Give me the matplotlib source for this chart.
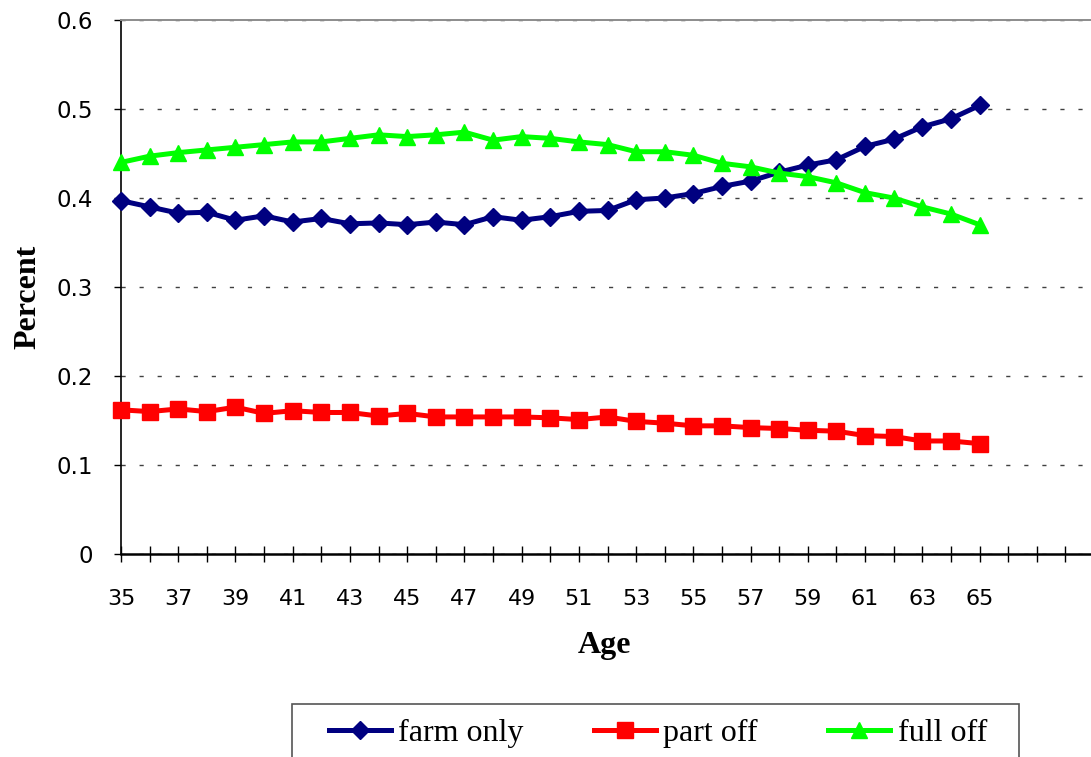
import matplotlib
matplotlib.use("Agg")
import matplotlib.pyplot as plt
from matplotlib.patches import Rectangle

# Share of households by work status across operator age
ages = list(range(35, 66))
farm_only = [0.397, 0.390, 0.383, 0.384, 0.375, 0.380, 0.373, 0.377, 0.371, 0.372,
             0.370, 0.373, 0.370, 0.379, 0.375, 0.379, 0.385, 0.386, 0.398, 0.400,
             0.405, 0.413, 0.419, 0.429, 0.437, 0.443, 0.458, 0.466, 0.480, 0.489,
             0.504]
part_off = [0.162, 0.160, 0.163, 0.160, 0.165, 0.158, 0.161, 0.159, 0.159, 0.155,
            0.158, 0.154, 0.154, 0.154, 0.154, 0.153, 0.151, 0.154, 0.149, 0.147,
            0.144, 0.144, 0.142, 0.141, 0.139, 0.138, 0.133, 0.132, 0.127, 0.127,
            0.124]
full_off = [0.440, 0.447, 0.451, 0.454, 0.457, 0.460, 0.463, 0.463, 0.467, 0.471,
            0.469, 0.471, 0.474, 0.465, 0.469, 0.467, 0.463, 0.460, 0.452, 0.452,
            0.448, 0.439, 0.435, 0.428, 0.424, 0.417, 0.406, 0.400, 0.390, 0.382,
            0.370]
y_ticks = [0, 0.1, 0.2, 0.3, 0.4, 0.5, 0.6]
y_tick_labels = ["0", "0.1", "0.2", "0.3", "0.4", "0.5", "0.6"]

W, H = 1091, 757
fig = plt.figure(figsize=(W / 100, H / 100), dpi=100)

# plot area in pixel terms: left 121, top 20, bottom 554, runs past right edge
x0, x1, ytop, ybot = 121, 1094, 20, 554
ax = fig.add_axes([x0 / W, 1 - ybot / H, (x1 - x0) / W, (ybot - ytop) / H])

ax.plot(ages, farm_only, color="#000080", lw=3.6, marker="D", ms=9.5,
        label="farm only", zorder=3, clip_on=False)
ax.plot(ages, part_off, color="#FF0000", lw=3.6, marker="s", ms=11.5,
        label="part off", zorder=3, clip_on=False)
ax.plot(ages, full_off, color="#00FF00", lw=3.6, marker="^", ms=11.5,
        label="full off", zorder=3, clip_on=False)

ax.set_xlim(35, 69)
ax.set_ylim(0, 0.6)

ax.set_xticks(list(range(35, 70)))
ax.set_xticklabels([str(a) if (a % 2 == 1 and a <= 65) else "" for a in range(35, 70)],
                   fontsize=16, family="DejaVu Sans")
ax.set_yticks(y_ticks)
ax.set_yticklabels(y_tick_labels, fontsize=16.5, family="DejaVu Sans")

ax.tick_params(axis="x", direction="inout", length=12, width=1.0, color="#000000", pad=19)
ax.tick_params(axis="y", direction="out", length=5, width=1.0, color="#000000", pad=15)

ax.set_axisbelow(True)
ax.yaxis.grid(True, linestyle=(0, (3, 10)), color="#404040", lw=1.0)
ax.xaxis.grid(False)

ax.spines["right"].set_visible(False)
ax.spines["top"].set_color("#8c8c8c")
ax.spines["top"].set_linewidth(1.4)
ax.spines["left"].set_color("#000000")
ax.spines["left"].set_linewidth(1.2)
ax.spines["bottom"].set_color("#000000")
ax.spines["bottom"].set_linewidth(1.8)

fig.text(28 / W, 1 - 297 / H, "Percent", rotation=90, ha="center", va="center",
         fontsize=23, fontweight="bold", family="Liberation Serif")
fig.text(605 / W, 1 - 645 / H, "Age", ha="center", va="center",
         fontsize=23, fontweight="bold", family="Liberation Serif")

# legend frame, partly running off the bottom edge
fig.patches.append(Rectangle((292 / W, 1 - 770 / H), (1019 - 292) / W, (770 - 704) / H,
                             transform=fig.transFigure, facecolor="white",
                             edgecolor="#555555", lw=1.2, zorder=1))
handles, labels = ax.get_legend_handles_labels()
leg = fig.legend(handles, labels, loc="center left",
                 bbox_to_anchor=(329 / W, 1 - 733 / H), ncol=3, frameon=False,
                 borderpad=0, borderaxespad=0, handlelength=1.95, handletextpad=0.22,
                 columnspacing=2.2, markerscale=1.0,
                 prop={"family": "Liberation Serif", "size": 23})
leg.set_zorder(5)

fig.savefig("out.png", dpi=100, facecolor="white")
